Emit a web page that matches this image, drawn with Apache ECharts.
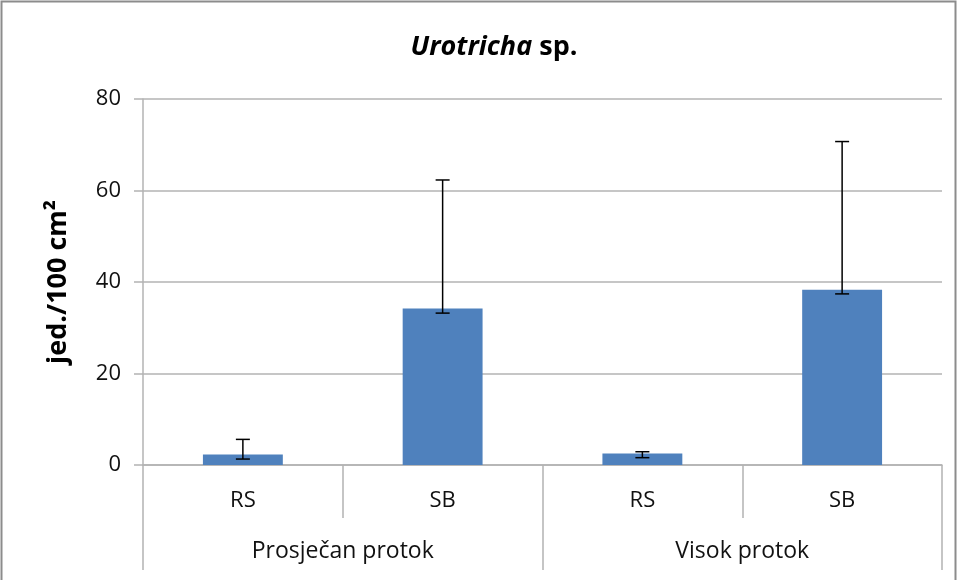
<!DOCTYPE html>
<html>
<head>
<meta charset="utf-8">
<script src="https://cdn.jsdelivr.net/npm/echarts@6/dist/echarts.min.js"></script>
<style>
  html, body { margin: 0; padding: 0; background: #fff; }
  #chart { width: 958px; height: 580px; }
</style>
</head>
<body>
<div id="chart"></div>
<script>
var categories = ['RS', 'SB', 'RS', 'SB'];
var groups = ['Prosječan protok', 'Visok protok'];
var means = [2.3, 34.2, 2.5, 38.3];
var errLow = [1.3, 33.2, 1.6, 37.4];
var errHigh = [5.6, 62.3, 2.9, 70.7];
var yTicks = { min: 0, max: 80, interval: 20 };

var errData = means.map(function (m, i) { return [i, errLow[i], errHigh[i]]; });

var font = '"Open Sans", "Noto Sans", sans-serif';
var gridColor = '#b3b3b3';

var myChart = echarts.init(document.getElementById('chart'));
myChart.setOption({
    animation: false,
    title: {
        text: '{i|Urotricha}{n| sp.}',
        left: 489,
        textAlign: 'center',
        top: 29,
        textStyle: {
            rich: {
                i: { fontFamily: font, fontSize: 27, fontWeight: 'bold', fontStyle: 'italic', color: '#000' },
                n: { fontFamily: font, fontSize: 27, fontWeight: 'bold', color: '#000' }
            }
        }
    },
    graphic: [{
        type: 'rect',
        shape: { x: 1.5, y: 1.5, width: 954, height: 600 },
        style: { fill: 'none', stroke: '#8c8c8c', lineWidth: 2 },
        silent: true
    }, {
        type: 'text',
        x: 45,
        y: 364,
        rotation: Math.PI / 2,
        style: {
            text: 'jed./100 cm²',
            font: 'bold 27px ' + font,
            fill: '#000'
        },
        silent: true
    }],
    grid: { left: 143, right: 16, top: 99, bottom: 115 },
    xAxis: [{
        type: 'category',
        data: categories,
        position: 'bottom',
        axisLine: { show: true, lineStyle: { color: gridColor, width: 1.5 } },
        axisTick: { show: true, interval: 0, length: 53, lineStyle: { color: gridColor, width: 1.5 } },
        axisLabel: { interval: 0, margin: 25, fontFamily: font, fontSize: 22, color: '#111' }
    }, {
        type: 'category',
        data: groups,
        position: 'bottom',
        axisLine: { show: false },
        axisTick: { show: true, interval: 0, length: 105, lineStyle: { color: gridColor, width: 1.5 } },
        axisLabel: { interval: 0, margin: 75, fontFamily: font, fontSize: 23, color: '#111' }
    }],
    yAxis: {
        type: 'value',
        min: yTicks.min,
        max: yTicks.max,
        interval: yTicks.interval,
        axisLine: { show: true, lineStyle: { color: gridColor, width: 1.5 } },
        axisTick: { show: true, length: 9, lineStyle: { color: gridColor, width: 1.5 } },
        axisLabel: { margin: 22, fontFamily: font, fontSize: 22, color: '#111' },
        splitLine: { show: true, lineStyle: { color: gridColor, width: 1.5 } }
    },
    series: [{
        type: 'bar',
        data: means,
        barWidth: '40%',
        itemStyle: { color: '#4f81bd' }
    }, {
        type: 'custom',
        data: errData,
        z: 10,
        renderItem: function (params, api) {
            var x = api.value(0);
            var lo = api.coord([x, api.value(1)]);
            var hi = api.coord([x, api.value(2)]);
            var cap = 7;
            var st = { stroke: '#000', lineWidth: 1.5 };
            return {
                type: 'group',
                children: [
                    { type: 'line', shape: { x1: lo[0], y1: lo[1], x2: hi[0], y2: hi[1] }, style: st },
                    { type: 'line', shape: { x1: lo[0] - cap, y1: lo[1], x2: lo[0] + cap, y2: lo[1] }, style: st },
                    { type: 'line', shape: { x1: hi[0] - cap, y1: hi[1], x2: hi[0] + cap, y2: hi[1] }, style: st }
                ]
            };
        }
    }]
});
</script>
</body>
</html>
